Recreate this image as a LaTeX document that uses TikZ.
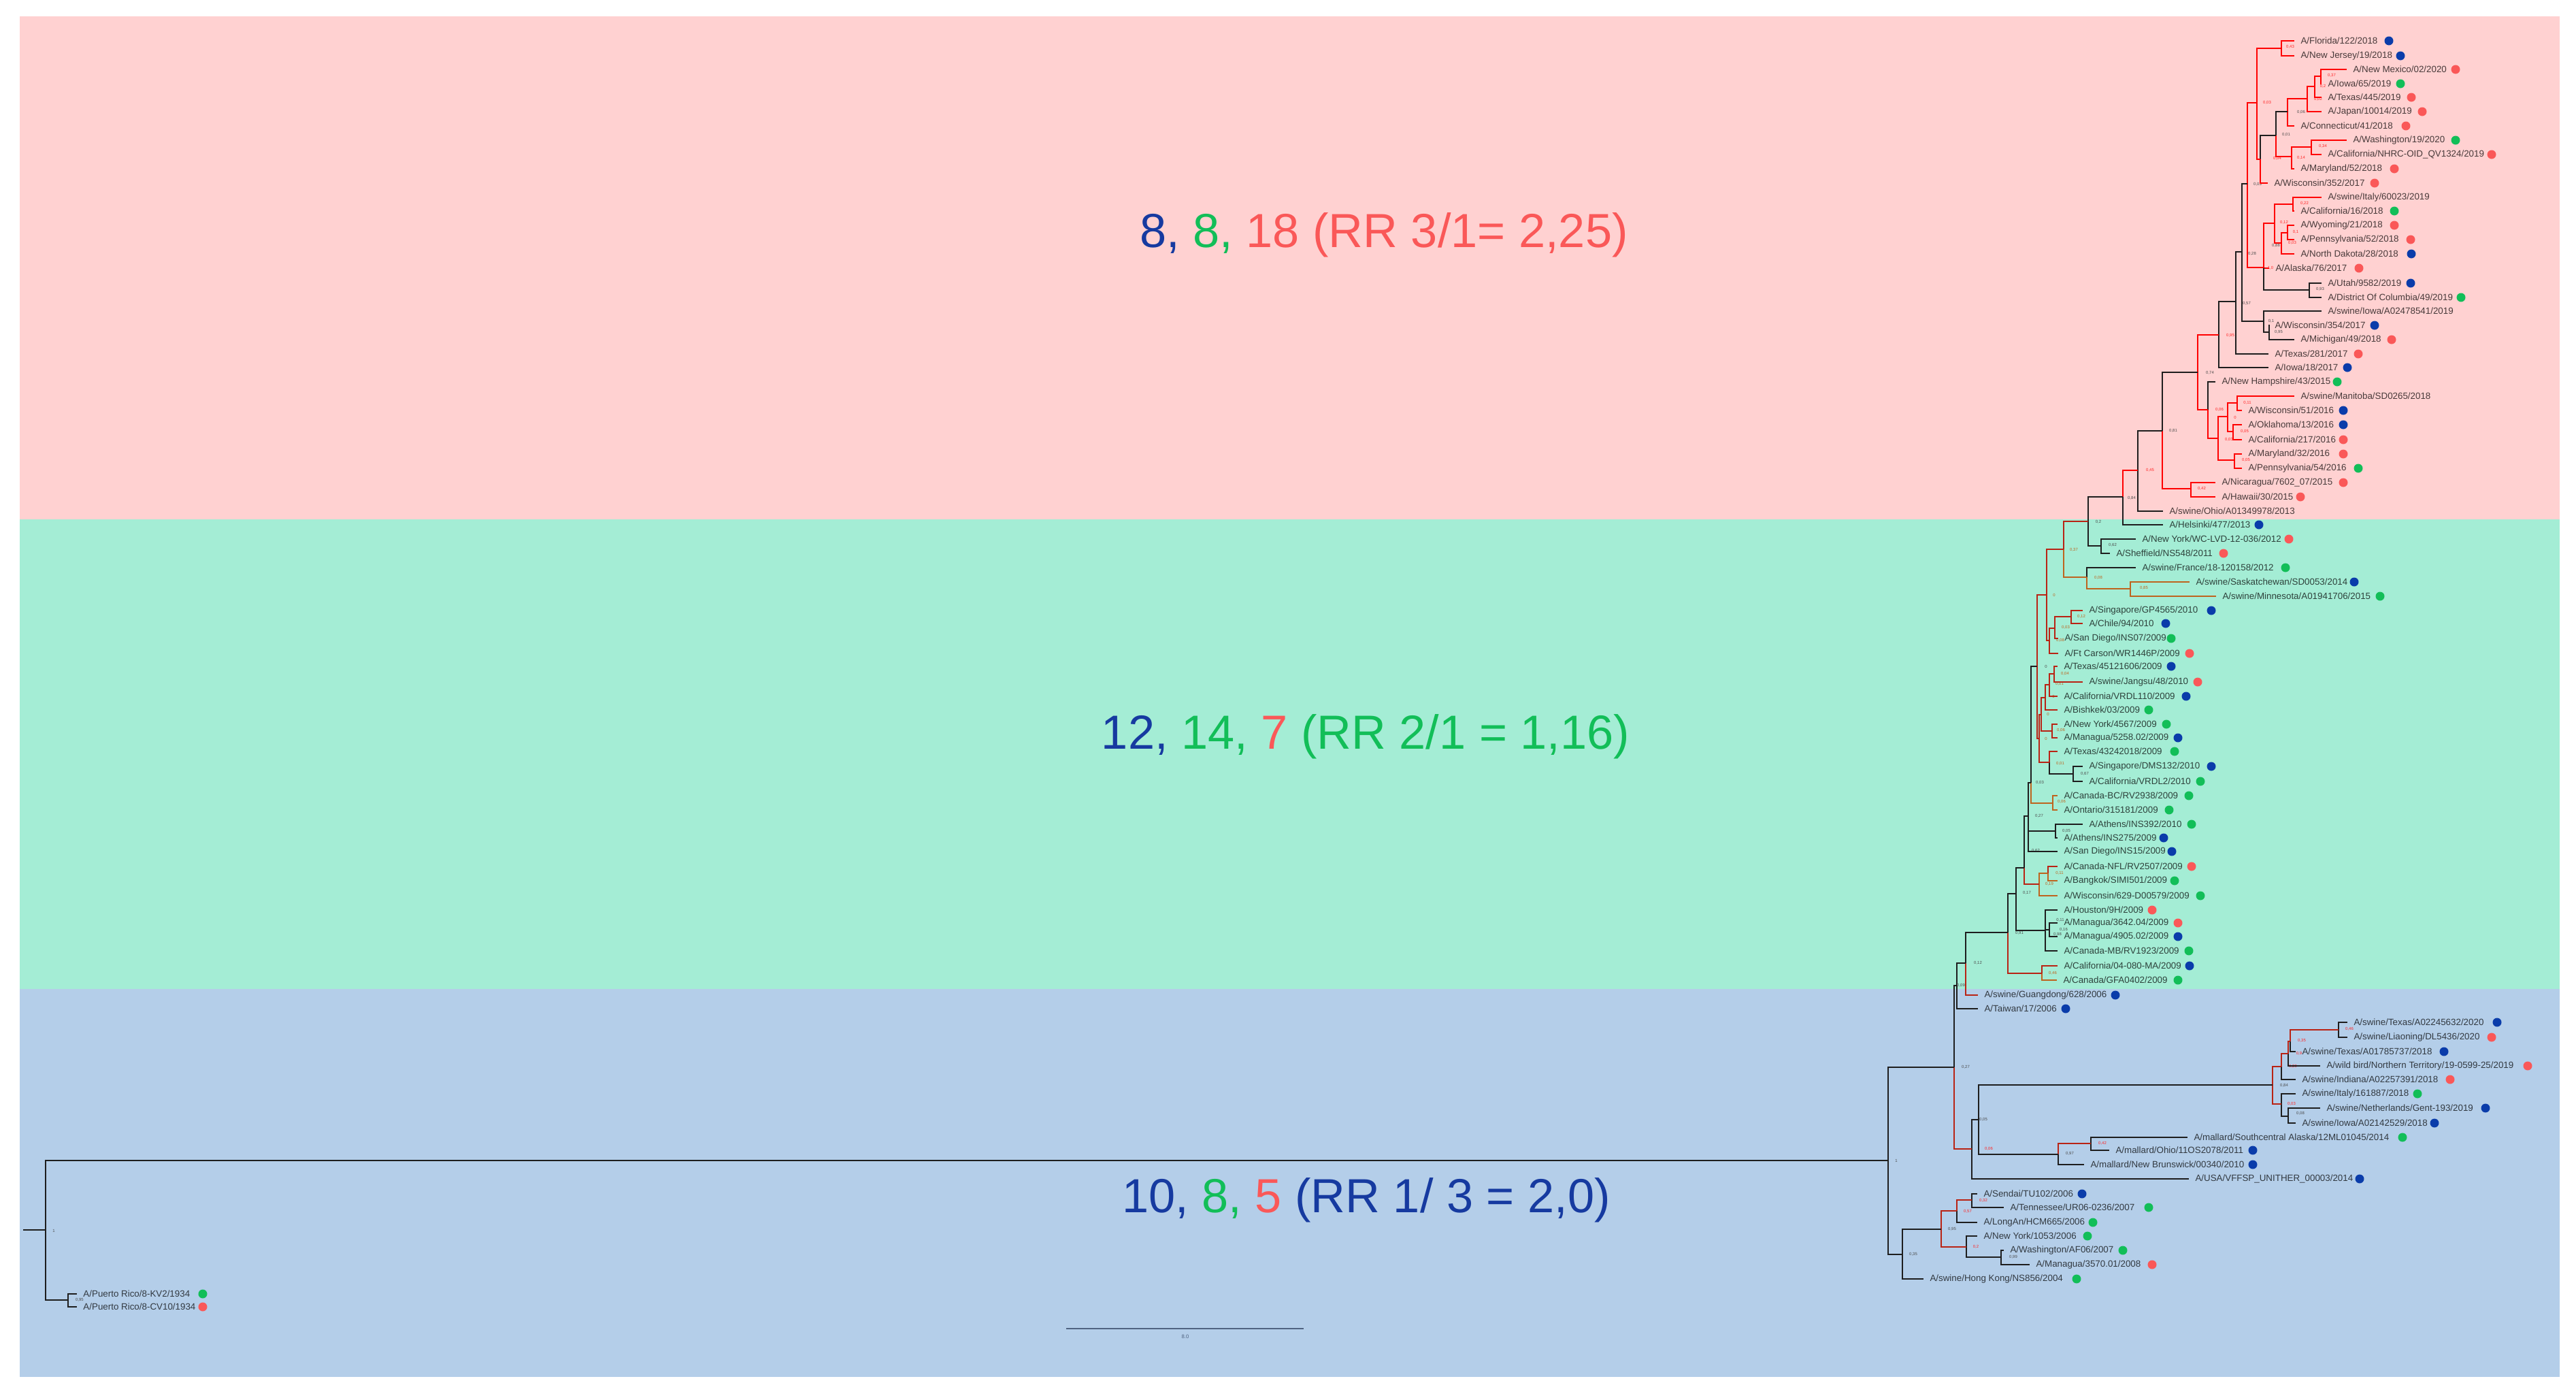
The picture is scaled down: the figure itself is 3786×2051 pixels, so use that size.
\documentclass[tikz,border=0pt]{standalone}
\usepackage{fontspec}
\setmainfont{Liberation Sans}

\definecolor{pinkbg}{RGB}{255,209,209}
\definecolor{mintbg}{RGB}{164,237,213}
\definecolor{bluebg}{RGB}{180,206,233}
\definecolor{dotblue}{RGB}{10,60,170}
\definecolor{dotgreen}{RGB}{18,190,88}
\definecolor{dotred}{RGB}{250,88,88}
\definecolor{txtblue}{RGB}{22,58,160}
\definecolor{brblack}{RGB}{30,30,30}
\definecolor{brdark}{RGB}{185,35,20}
\definecolor{brorange}{RGB}{190,100,30}
\definecolor{scalegray}{RGB}{80,100,130}

\tikzset{
  leaf/.style={anchor=west, inner xsep=2.5pt, inner ysep=0pt, text=black, text opacity=0.72,
    font=\fontsize{3.8}{4}\selectfont},
  spot/.style={circle, inner sep=0pt, minimum size=0.13cm},
  br/.style={draw=brblack, line width=0.75pt},
  rbr/.style={draw=red, line width=0.75pt},
  dbr/.style={draw=brdark, line width=0.75pt},
  obr/.style={draw=brorange, line width=0.75pt},
  boot/.style={inner sep=0pt, text=black!70, font=\fontsize{1.7}{2}\selectfont},
  rboot/.style={boot, text=red!85},
  oboot/.style={boot, text=brorange},
  big/.style={inner sep=0pt, font=\fontsize{20}{24}\selectfont}
}

% leaf label with its coloured spot
\newcommand{\leaf}[6]{%
  \node [leaf] (l#1) at (#2,#3) {#4};
  \ifx\relax#5\relax\else\node [spot, fill=#5] (d#1) at (#6,#3) {};\fi}
% support value
\newcommand{\bs}[5]{\node [#1] (#2) at (#3,#4) {#5};}

\begin{document}
\begin{tikzpicture}[x=0.01cm, y=-0.01cm]
\useasboundingbox (0,0) rectangle (3786,2051);
\fill [white] (0,0) rectangle (3786,2051);

%%%  bands
\fill [pinkbg] (29,24) rectangle (3762,763);
\fill [mintbg] (29,763) rectangle (3762,1453);
\fill [bluebg] (29,1453) rectangle (3762,2023);

%%%  nodes

% band labels
\node [big] (rrone) at (2034,345) {\textcolor{txtblue}{8,} \textcolor{dotgreen}{8,} \textcolor{dotred}{18 (RR 3/1= 2,25)}};
\node [big] (rrtwo) at (2007,1082) {\textcolor{txtblue}{12,} \textcolor{dotgreen}{14,} \textcolor{dotred}{7} \textcolor{dotgreen}{(RR 2/1 = 1,16)}};
\node [big] (rrthree) at (2008,1763) {\textcolor{txtblue}{10,} \textcolor{dotgreen}{8,} \textcolor{dotred}{5} \textcolor{txtblue}{(RR 1/ 3 = 2,0)}};

% strain nodes
\leaf{1}{3372}{60}{A/Florida/122/2018}{dotblue}{3511}
\leaf{2}{3372}{82}{A/New Jersey/19/2018}{dotblue}{3528}
\leaf{3}{3449}{102}{A/New Mexico/02/2020}{dotred}{3609}
\leaf{4}{3412}{123}{A/Iowa/65/2019}{dotgreen}{3528}
\leaf{5}{3412}{143}{A/Texas/445/2019}{dotred}{3544}
\leaf{6}{3412}{164}{A/Japan/10014/2019}{dotred}{3560}
\leaf{7}{3372}{185}{A/Connecticut/41/2018}{dotred}{3536}
\leaf{8}{3449}{206}{A/Washington/19/2020}{dotgreen}{3609}
\leaf{9}{3412}{227}{A/California/NHRC-OID\_QV1324/2019}{dotred}{3662}
\leaf{10}{3372}{248}{A/Maryland/52/2018}{dotred}{3519}
\leaf{11}{3333}{269}{A/Wisconsin/352/2017}{dotred}{3490}
\leaf{12}{3412}{290}{A/swine/Italy/60023/2019}{}{}
\leaf{13}{3372}{310}{A/California/16/2018}{dotgreen}{3519}
\leaf{14}{3372}{331}{A/Wyoming/21/2018}{dotred}{3519}
\leaf{15}{3372}{352}{A/Pennsylvania/52/2018}{dotred}{3543}
\leaf{16}{3372}{373}{A/North Dakota/28/2018}{dotblue}{3544}
\leaf{17}{3335}{394}{A/Alaska/76/2017}{dotred}{3467}
\leaf{18}{3412}{416}{A/Utah/9582/2019}{dotblue}{3543}
\leaf{19}{3412}{437}{A/District Of Columbia/49/2019}{dotgreen}{3617}
\leaf{20}{3412}{457}{A/swine/Iowa/A02478541/2019}{}{}
\leaf{21}{3334}{478}{A/Wisconsin/354/2017}{dotblue}{3490}
\leaf{22}{3372}{499}{A/Michigan/49/2018}{dotred}{3515}
\leaf{23}{3334}{520}{A/Texas/281/2017}{dotred}{3466}
\leaf{24}{3334}{540}{A/Iowa/18/2017}{dotblue}{3450}
\leaf{25}{3256}{561}{A/New Hampshire/43/2015}{dotgreen}{3435}
\leaf{26}{3372}{582}{A/swine/Manitoba/SD0265/2018}{}{}
\leaf{27}{3295}{603}{A/Wisconsin/51/2016}{dotblue}{3444}
\leaf{28}{3295}{624}{A/Oklahoma/13/2016}{dotblue}{3444}
\leaf{29}{3295}{646}{A/California/217/2016}{dotred}{3444}
\leaf{30}{3295}{667}{A/Maryland/32/2016}{dotred}{3444}
\leaf{31}{3295}{688}{A/Pennsylvania/54/2016}{dotgreen}{3466}
\leaf{32}{3256}{709}{A/Nicaragua/7602\_07/2015}{dotred}{3444}
\leaf{33}{3256}{730}{A/Hawaii/30/2015}{dotred}{3381}
\leaf{34}{3179}{751}{A/swine/Ohio/A01349978/2013}{}{}
\leaf{35}{3179}{771}{A/Helsinki/477/2013}{dotblue}{3320}
\leaf{36}{3139}{792}{A/New York/WC-LVD-12-036/2012}{dotred}{3364}
\leaf{37}{3101}{813}{A/Sheffield/NS548/2011}{dotred}{3268}
\leaf{38}{3139}{834}{A/swine/France/18-120158/2012}{dotgreen}{3359}
\leaf{39}{3218}{855}{A/swine/Saskatchewan/SD0053/2014}{dotblue}{3460}
\leaf{40}{3257}{876}{A/swine/Minnesota/A01941706/2015}{dotgreen}{3498}
\leaf{41}{3061}{897}{A/Singapore/GP4565/2010}{dotblue}{3250}
\leaf{42}{3061}{916}{A/Chile/94/2010}{dotblue}{3183}
\leaf{43}{3025}{938}{A/San Diego/INS07/2009}{dotgreen}{3191}
\leaf{44}{3025}{960}{A/Ft Carson/WR1446P/2009}{dotred}{3218}
\leaf{45}{3024}{979}{A/Texas/45121606/2009}{dotblue}{3191}
\leaf{46}{3061}{1002}{A/swine/Jangsu/48/2010}{dotred}{3230}
\leaf{47}{3024}{1023}{A/California/VRDL110/2009}{dotblue}{3213}
\leaf{48}{3024}{1043}{A/Bishkek/03/2009}{dotgreen}{3158}
\leaf{49}{3024}{1064}{A/New York/4567/2009}{dotgreen}{3184}
\leaf{50}{3024}{1084}{A/Managua/5258.02/2009}{dotblue}{3201}
\leaf{51}{3024}{1104}{A/Texas/43242018/2009}{dotgreen}{3196}
\leaf{52}{3061}{1126}{A/Singapore/DMS132/2010}{dotblue}{3250}
\leaf{53}{3061}{1148}{A/California/VRDL2/2010}{dotgreen}{3234}
\leaf{54}{3024}{1169}{A/Canada-BC/RV2938/2009}{dotgreen}{3217}
\leaf{55}{3024}{1190}{A/Ontario/315181/2009}{dotgreen}{3188}
\leaf{56}{3061}{1211}{A/Athens/INS392/2010}{dotgreen}{3221}
\leaf{57}{3024}{1231}{A/Athens/INS275/2009}{dotblue}{3180}
\leaf{58}{3024}{1251}{A/San Diego/INS15/2009}{dotblue}{3192}
\leaf{59}{3024}{1273}{A/Canada-NFL/RV2507/2009}{dotred}{3221}
\leaf{60}{3024}{1294}{A/Bangkok/SIMI501/2009}{dotgreen}{3196}
\leaf{61}{3024}{1316}{A/Wisconsin/629-D00579/2009}{dotgreen}{3234}
\leaf{62}{3024}{1337}{A/Houston/9H/2009}{dotred}{3163}
\leaf{63}{3024}{1356}{A/Managua/3642.04/2009}{dotred}{3201}
\leaf{64}{3024}{1376}{A/Managua/4905.02/2009}{dotblue}{3201}
\leaf{65}{3024}{1397}{A/Canada-MB/RV1923/2009}{dotgreen}{3217}
\leaf{66}{3024}{1419}{A/California/04-080-MA/2009}{dotblue}{3218}
\leaf{67}{3023}{1440}{A/Canada/GFA0402/2009}{dotgreen}{3201}
\leaf{68}{2907}{1462}{A/swine/Guangdong/628/2006}{dotblue}{3109}
\leaf{69}{2907}{1482}{A/Taiwan/17/2006}{dotblue}{3036}
\leaf{70}{3450}{1502}{A/swine/Texas/A02245632/2020}{dotblue}{3670}
\leaf{71}{3450}{1524}{A/swine/Liaoning/DL5436/2020}{dotred}{3662}
\leaf{72}{3374}{1545}{A/swine/Texas/A01785737/2018}{dotblue}{3592}
\leaf{73}{3410}{1566}{A/wild bird/Northern Territory/19-0599-25/2019}{dotred}{3715}
\leaf{74}{3374}{1586}{A/swine/Indiana/A02257391/2018}{dotred}{3601}
\leaf{75}{3374}{1607}{A/swine/Italy/161887/2018}{dotgreen}{3553}
\leaf{76}{3410}{1628}{A/swine/Netherlands/Gent-193/2019}{dotblue}{3653}
\leaf{77}{3374}{1650}{A/swine/Iowa/A02142529/2018}{dotblue}{3578}
\leaf{78}{3215}{1671}{A/mallard/Southcentral Alaska/12ML01045/2014}{dotgreen}{3531}
\leaf{79}{3100}{1690}{A/mallard/Ohio/11OS2078/2011}{dotblue}{3311}
\leaf{80}{3063}{1711}{A/mallard/New Brunswick/00340/2010}{dotblue}{3311}
\leaf{81}{3217}{1732}{A/USA/VFFSP\_UNITHER\_00003/2014}{dotblue}{3468}
\leaf{82}{2906}{1754}{A/Sendai/TU102/2006}{dotblue}{3060}
\leaf{83}{2945}{1774}{A/Tennessee/UR06-0236/2007}{dotgreen}{3158}
\leaf{84}{2906}{1796}{A/LongAn/HCM665/2006}{dotgreen}{3076}
\leaf{85}{2906}{1816}{A/New York/1053/2006}{dotgreen}{3068}
\leaf{86}{2945}{1837}{A/Washington/AF06/2007}{dotgreen}{3120}
\leaf{87}{2983}{1858}{A/Managua/3570.01/2008}{dotred}{3163}
\leaf{88}{2827}{1879}{A/swine/Hong Kong/NS856/2004}{dotgreen}{3052}
\leaf{89}{113}{1901}{A/Puerto Rico/8-KV2/1934}{dotgreen}{298}
\leaf{90}{113}{1920}{A/Puerto Rico/8-CV10/1934}{dotred}{298}

% branch points, top band
\coordinate (nF) at (3353,71);
\coordinate (nO) at (3411,112);
\coordinate (nN) at (3402,127);
\coordinate (nM) at (3391,145);
\coordinate (nJ) at (3362,164);
\coordinate (nL) at (3397,216);
\coordinate (nK) at (3368,230);
\coordinate (nI) at (3345,199);
\coordinate (nH) at (3322,234);
\coordinate (nG) at (3317,151);
\coordinate (nP) at (3370,300);
\coordinate (nS) at (3362,342);
\coordinate (nR) at (3353,357);
\coordinate (nQ) at (3343,328);
\coordinate (nV) at (3394,426);
\coordinate (nT) at (3327,393);
\coordinate (nU) at (3303,270);
\coordinate (nY) at (3335,488);
\coordinate (nX) at (3327,472);
\coordinate (nW) at (3295,370);
\coordinate (nZ) at (3286,443);
\coordinate (nAA) at (3261,492);
\coordinate (nAG) at (3288,592);
\coordinate (nAH) at (3282,634);
\coordinate (nAE) at (3274,612);
\coordinate (nAF) at (3284,676);
\coordinate (nAD) at (3260,644);
\coordinate (nAC) at (3245,602);
\coordinate (nAB) at (3230,547);
\coordinate (nAI) at (3220,718);
\coordinate (nAJ) at (3178,633);
\coordinate (nAK) at (3142,691);
\coordinate (nAL) at (3120,730);

% branch points, middle band
\coordinate (nAN) at (3088,802);
\coordinate (nAM) at (3069,766);
\coordinate (nAQ) at (3131,865);
\coordinate (nAP) at (3067,848);
\coordinate (nAO) at (3033,807);
\coordinate (nAU) at (3044,906);
\coordinate (nAT) at (3020,923);
\coordinate (nAS) at (3012,941);
\coordinate (nAR) at (3008,874);
\coordinate (nBA) at (3019,990);
\coordinate (nBB) at (3012,1006);
\coordinate (nBC) at (3006,1025);
\coordinate (nBD) at (3016,1074);
\coordinate (nBE) at (3000,1050);
\coordinate (nBF) at (3047,1137);
\coordinate (nBG) at (3012,1120);
\coordinate (nBH) at (2997,1085);
\coordinate (nBI) at (2994,979);
\coordinate (nBJ) at (3017,1180);
\coordinate (nBK) at (2985,1150);
\coordinate (nBL) at (3021,1221);
\coordinate (nCH) at (2981,1199);
\coordinate (nBN) at (3010,1283);
\coordinate (nBO) at (2997,1299);
\coordinate (nCE) at (2975,1275);
\coordinate (nCF) at (3012,1366);
\coordinate (nCD) at (3006,1367);
\coordinate (nCB) at (2963,1313);
\coordinate (nCC) at (3001,1430);
\coordinate (nCA) at (2951,1370);
\coordinate (nNa) at (2889,1415);
\coordinate (nNb) at (2876,1448);

% branch points, bottom band
\coordinate (nSE) at (3437,1513);
\coordinate (nSD) at (3366,1530);
\coordinate (nSC) at (3363,1548);
\coordinate (nSA) at (3353,1567);
\coordinate (nSF) at (3363,1640);
\coordinate (nSB) at (3353,1622);
\coordinate (nSW) at (3340,1594);
\coordinate (nMA) at (3073,1680);
\coordinate (nML) at (3025,1696);
\coordinate (nQb) at (2908,1645);
\coordinate (nQa) at (2898,1688);
\coordinate (nPa) at (2872,1568);
\coordinate (nHE) at (2898,1763);
\coordinate (nHC) at (2876,1779);
\coordinate (nHF) at (2941,1847);
\coordinate (nHD) at (2890,1832);
\coordinate (nHA) at (2853,1806);
\coordinate (nHB) at (2796,1843);
\coordinate (nRa) at (2775,1705);
\coordinate (nPR) at (100,1910);
\coordinate (nRT) at (67,1807);
\coordinate (root) at (34,1807);

% support values
\bs{rboot}{b1}{3366}{69}{0,43}
\bs{rboot}{b2}{3427}{111}{0,37}
\bs{rboot}{b3}{3414}{127}{0,2}
\bs{rboot}{b4}{3407}{146}{0,02}
\bs{boot}{b5}{3382}{165}{0,06}
\bs{rboot}{b6}{3332}{151}{0,03}
\bs{boot}{b7}{3360}{198}{0,01}
\bs{rboot}{b8}{3414}{215}{0,34}
\bs{rboot}{b9}{3347}{233}{0,04}
\bs{rboot}{b10}{3382}{232}{0,14}
\bs{boot}{b11}{3318}{271}{0,03}
\bs{rboot}{b12}{3387}{299}{0,22}
\bs{rboot}{b13}{3357}{327}{0,12}
\bs{rboot}{b14}{3374}{341}{0,1}
\bs{rboot}{b15}{3369}{357}{0,03}
\bs{boot}{b16}{3345}{361}{0,88}
\bs{boot}{b17}{3310}{373}{0,28}
\bs{rboot}{b18}{3337}{394}{1,0}
\bs{boot}{b19}{3410}{425}{0,93}
\bs{boot}{b20}{3302}{446}{0,57}
\bs{boot}{b21}{3338}{472}{0,1}
\bs{boot}{b22}{3349}{488}{0,95}
\bs{rboot}{b23}{3278}{493}{0,95}
\bs{boot}{b24}{3248}{548}{0,74}
\bs{rboot}{b25}{3303}{592}{0,11}
\bs{rboot}{b26}{3262}{602}{0,06}
\bs{rboot}{b27}{3285}{613}{0}
\bs{rboot}{b28}{3299}{634}{0,05}
\bs{rboot}{b29}{3276}{646}{0,03}
\bs{rboot}{b30}{3301}{676}{0,05}
\bs{boot}{b31}{3194}{633}{0,81}
\bs{rboot}{b32}{3160}{691}{0,45}
\bs{rboot}{b33}{3236}{718}{0,42}
\bs{boot}{b34}{3133}{732}{0,84}
\bs{boot}{b35}{3084}{767}{0,2}
\bs{boot}{b36}{3105}{801}{0,62}
\bs{oboot}{b37}{3048}{808}{0,37}
\bs{oboot}{b38}{3084}{849}{0,08}
\bs{oboot}{b39}{3151}{864}{0,85}
\bs{oboot}{b40}{3019}{874}{0}
\bs{oboot}{b41}{3059}{906}{0,12}
\bs{oboot}{b42}{3036}{922}{0,03}
\bs{oboot}{b43}{3028}{941}{0,08}
\bs{boot}{b44}{3007}{979}{0}
\bs{oboot}{b45}{3035}{990}{0,04}
\bs{oboot}{b46}{3027}{1005}{0,01}
\bs{oboot}{b47}{3018}{1023}{0}
\bs{oboot}{b48}{3010}{1049}{0}
\bs{oboot}{b49}{3029}{1073}{0,06}
\bs{oboot}{b50}{3007}{1085}{0}
\bs{oboot}{b51}{3028}{1122}{0,01}
\bs{boot}{b52}{3064}{1137}{0,67}
\bs{boot}{b53}{2998}{1150}{0,03}
\bs{oboot}{b54}{3030}{1178}{0,06}
\bs{boot}{b55}{2997}{1199}{0,27}
\bs{boot}{b56}{3037}{1221}{0,05}
\bs{boot}{b57}{2992}{1250}{0,62}
\bs{oboot}{b58}{3027}{1283}{0,11}
\bs{oboot}{b59}{3012}{1299}{0,19}
\bs{boot}{b60}{2979}{1312}{0,17}
\bs{boot}{b61}{3028}{1352}{0,11}
\bs{boot}{b62}{3033}{1366}{0,16}
\bs{boot}{b63}{3024}{1373}{0,98}
\bs{boot}{b64}{2968}{1371}{0,91}
\bs{oboot}{b65}{3017}{1430}{0,46}
\bs{boot}{b66}{2907}{1415}{0,12}
\bs{boot}{b67}{2882}{1448}{0,09}
\bs{boot}{b68}{2889}{1568}{0,27}
\bs{rboot}{b69}{3453}{1512}{0,46}
\bs{rboot}{b70}{3383}{1529}{0,35}
\bs{rboot}{b71}{3379}{1548}{0,9}
\bs{rboot}{b72}{3370}{1567}{0,89}
\bs{boot}{b73}{3357}{1595}{0,84}
\bs{rboot}{b74}{3368}{1622}{0,03}
\bs{boot}{b75}{3381}{1636}{0,08}
\bs{boot}{b76}{2915}{1645}{0,05}
\bs{rboot}{b77}{3090}{1680}{0,42}
\bs{rboot}{b78}{2923}{1688}{0,06}
\bs{boot}{b79}{3042}{1695}{0,97}
\bs{boot}{b80}{2787}{1705}{1}
\bs{rboot}{b81}{2915}{1764}{0,32}
\bs{rboot}{b82}{2892}{1780}{0,57}
\bs{boot}{b83}{2869}{1806}{0,95}
\bs{rboot}{b84}{2904}{1832}{0,2}
\bs{boot}{b85}{2959}{1847}{0,99}
\bs{boot}{b86}{2812}{1843}{0,35}
\bs{boot}{b87}{79}{1808}{1}
\bs{boot}{b88}{117}{1910}{0,95}

% scale bar
\coordinate (sbl) at (1567,1952);
\coordinate (sbr) at (1916,1952);
\node [inner sep=0pt, text=scalegray, font=\fontsize{2.2}{3}\selectfont] (sblabel) at (1742,1964) {8.0};

%%% edges

% top band
\draw [rbr] (nF) |- (l1.west) (nF) |- (l2.west);
\draw [rbr] (nO) |- (l3.west) (nO) |- (l4.west);
\draw [rbr] (nN) |- (nO) (nN) |- (l5.west);
\draw [rbr] (nM) |- (nN) (nM) |- (l6.west);
\draw [rbr] (nJ) |- (nM) (nJ) |- (l7.west);
\draw [rbr] (nL) |- (l8.west) (nL) |- (l9.west);
\draw [rbr] (nK) |- (nL) (nK) |- (l10.west);
\draw [br] (nI) |- (nJ);
\draw [rbr] (nI) |- (nK);
\draw [br] (nH) |- (nI);
\draw [rbr] (nH) |- (l11.west);
\draw [rbr] (nG) |- (nF) (nG) |- (nH);
\draw [rbr] (nP) |- (l12.west) (nP) |- (l13.west);
\draw [rbr] (nS) |- (l14.west) (nS) |- (l15.west);
\draw [rbr] (nR) |- (nS) (nR) |- (l16.west);
\draw [rbr] (nQ) |- (nP) (nQ) |- (nR);
\draw [br] (nV) |- (l18.west) (nV) |- (l19.west);
\draw [rbr] (nT) |- (nQ) (nT) |- (l17.west);
\draw [br] (nT) |- (nV);
\draw [rbr] (nU) |- (nG) (nU) |- (nT);
\draw [br] (nY) |- (l21.west) (nY) |- (l22.west);
\draw [br] (nX) |- (l20.west) (nX) |- (nY);
\draw [br] (nW) |- (nU) (nW) |- (nX);
\draw [br] (nZ) |- (nW) (nZ) |- (l23.west);
\draw [br] (nAA) |- (nZ) (nAA) |- (l24.west);
\draw [rbr] (nAG) |- (l26.west) (nAG) |- (l27.west);
\draw [rbr] (nAH) |- (l28.west) (nAH) |- (l29.west);
\draw [rbr] (nAE) |- (nAG) (nAE) |- (nAH);
\draw [rbr] (nAF) |- (l30.west) (nAF) |- (l31.west);
\draw [rbr] (nAD) |- (nAE) (nAD) |- (nAF);
\draw [br] (nAC) |- (l25.west);
\draw [rbr] (nAC) |- (nAD);
\draw [rbr] (nAB) |- (nAA) (nAB) |- (nAC);
\draw [rbr] (nAI) |- (l32.west) (nAI) |- (l33.west);
\draw [br] (nAJ) |- (nAB);
\draw [rbr] (nAJ) |- (nAI);
\draw [br] (nAK) |- (nAJ) (nAK) |- (l34.west);
\draw [rbr] (nAL) |- (nAK);
\draw [br] (nAL) |- (l35.west);

% middle band
\draw [br] (nAN) |- (l36.west) (nAN) |- (l37.west);
\draw [br] (nAM) |- (nAL) (nAM) |- (nAN);
\draw [obr] (nAQ) |- (l39.west) (nAQ) |- (l40.west);
\draw [br] (nAP) |- (l38.west);
\draw [obr] (nAP) |- (nAQ);
\draw [dbr] (nAO) |- (nAM);
\draw [obr] (nAO) |- (nAP);
\draw [dbr] (nAU) |- (l41.west) (nAU) |- (l42.west);
\draw [dbr] (nAT) |- (nAU) (nAT) |- (l43.west);
\draw [dbr] (nAS) |- (nAT) (nAS) |- (l44.west);
\draw [dbr] (nAR) |- (nAO) (nAR) |- (nAS);
\draw [dbr] (nBA) |- (l45.west) (nBA) |- (l46.west);
\draw [dbr] (nBB) |- (nBA) (nBB) |- (l47.west);
\draw [dbr] (nBC) |- (nBB) (nBC) |- (l48.west);
\draw [dbr] (nBD) |- (l49.west) (nBD) |- (l50.west);
\draw [dbr] (nBE) |- (nBC) (nBE) |- (nBD);
\draw [br] (nBF) |- (l52.west) (nBF) |- (l53.west);
\draw [dbr] (nBG) |- (l51.west);
\draw [br] (nBG) |- (nBF);
\draw [dbr] (nBH) |- (nBE) (nBH) |- (nBG);
\draw [dbr] (nBI) |- (nAR) (nBI) |- (nBH);
\draw [obr] (nBJ) |- (l54.west) (nBJ) |- (l55.west);
\draw [br] (nBK) |- (nBI);
\draw [obr] (nBK) |- (nBJ);
\draw [br] (nBL) |- (l56.west) (nBL) |- (l57.west);
\draw [br] (nCH) |- (nBK) (nCH) |- (nBL) (nCH) |- (l58.west);
\draw [dbr] (nBN) |- (l59.west);
\draw [obr] (nBN) |- (l60.west);
\draw [obr] (nBO) |- (nBN) (nBO) |- (l61.west);
\draw [br] (nCE) |- (nCH);
\draw [dbr] (nCE) |- (nBO);
\draw [br] (nCF) |- (l63.west) (nCF) |- (l64.west);
\draw [br] (nCD) |- (l62.west) (nCD) |- (nCF) (nCD) |- (l65.west);
\draw [br] (nCB) |- (nCE) (nCB) |- (nCD);
\draw [dbr] (nCC) |- (l66.west);
\draw [obr] (nCC) |- (l67.west);
\draw [br] (nCA) |- (nCB);
\draw [dbr] (nCA) |- (nCC);
\draw [br] (nNa) |- (nCA);
\draw [dbr] (nNa) |- (l68.west);
\draw [br] (nNb) |- (nNa) (nNb) |- (l69.west);

% bottom band
\draw [br] (nSE) |- (l70.west) (nSE) |- (l71.west);
\draw [dbr] (nSD) |- (nSE);
\draw [br] (nSD) |- (l72.west);
\draw [dbr] (nSC) |- (nSD);
\draw [br] (nSC) |- (l73.west);
\draw [dbr] (nSA) |- (nSC);
\draw [br] (nSA) |- (l74.west);
\draw [br] (nSF) |- (l76.west) (nSF) |- (l77.west);
\draw [br] (nSB) |- (l75.west) (nSB) |- (nSF);
\draw [dbr] (nSW) |- (nSA) (nSW) |- (nSB);
\draw [br] (nMA) |- (l78.west) (nMA) |- (l79.west);
\draw [dbr] (nML) |- (nMA);
\draw [br] (nML) |- (l80.west);
\draw [br] (nQb) |- (nSW) (nQb) |- (nML);
\draw [br] (nQa) |- (nQb) (nQa) |- (l81.west);
\draw [br] (nPa) |- (nNb);
\draw [dbr] (nPa) |- (nQa);
\draw [br] (nHE) |- (l82.west) (nHE) |- (l83.west);
\draw [dbr] (nHC) |- (nHE);
\draw [br] (nHC) |- (l84.west);
\draw [br] (nHF) |- (l86.west) (nHF) |- (l87.west);
\draw [br] (nHD) |- (l85.west) (nHD) |- (nHF);
\draw [dbr] (nHA) |- (nHC) (nHA) |- (nHD);
\draw [br] (nHB) |- (nHA) (nHB) |- (l88.west);
\draw [br] (nRa) |- (nPa) (nRa) |- (nHB);

% root
\draw [br] (nPR) |- (l89.west) (nPR) |- (l90.west);
\draw [br] (nRT) |- (nRa) (nRT) |- (nPR);
\draw [br] (root) -- (nRT);

% scale bar
\draw [scalegray, line width=0.6pt] (sbl) -- (sbr);
\end{tikzpicture}
\end{document}
